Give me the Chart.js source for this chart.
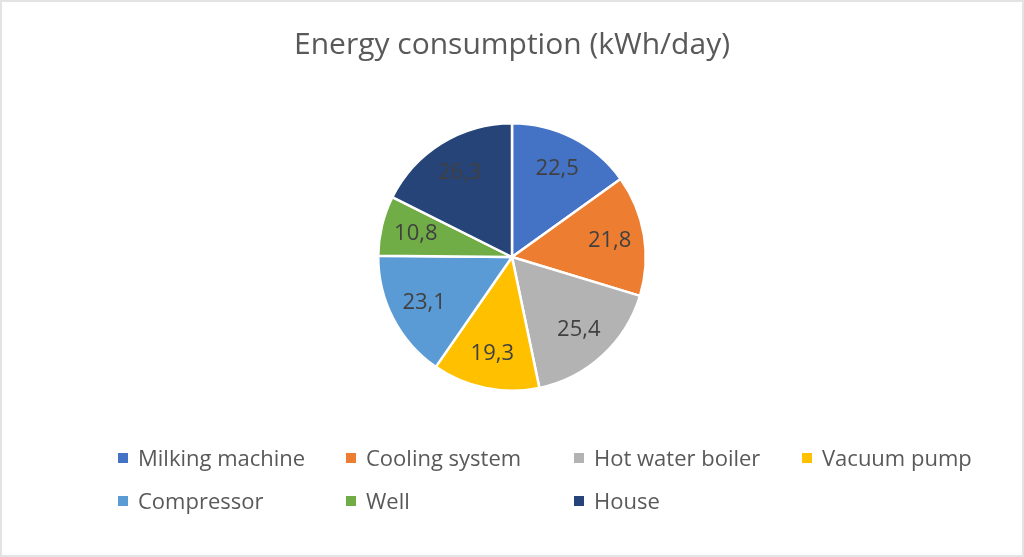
<!DOCTYPE html>
<html>
<head>
<meta charset="utf-8">
<script src="https://cdn.jsdelivr.net/npm/chart.js@4"></script>
<style>
  html, body { margin: 0; padding: 0; background: #fff; }
  #wrap { position: relative; width: 1024px; height: 557px; }
  #frame { position: absolute; left: 0; top: 0; width: 1024px; height: 557px; box-sizing: border-box; border: 2px solid #e3e3e3; pointer-events: none; }
  #legend { position: absolute; left: 118px; top: 439px; width: 912px; font-family: "Open Sans", sans-serif; font-size: 22px; color: #595959; }
  .item { position: absolute; white-space: nowrap; line-height: 36px; }
  .box { display: inline-block; width: 10px; height: 10px; margin-right: 10px; vertical-align: middle; position: relative; top: -2px; }
</style>
</head>
<body>
<div id="wrap">
  <canvas id="pie" width="1024" height="557"></canvas>
  <div id="legend"></div>
  <div id="frame"></div>
</div>
<script>
// Energy consumption per device, kWh/day
var categories = ['Milking machine', 'Cooling system', 'Hot water boiler', 'Vacuum pump', 'Compressor', 'Well', 'House'];
var values = [22.5, 21.8, 25.4, 19.3, 23.1, 10.8, 26.3];
var colors = ['#4472C4', '#ED7D31', '#B3B3B3', '#FFC000', '#5B9BD5', '#70AD47', '#264478'];

// draws the value inside each slice (Excel style, comma decimals)
var sliceLabels = {
    id: 'sliceLabels',
    afterDatasetsDraw: function(chart) {
        var ctx = chart.ctx;
        var meta = chart.getDatasetMeta(0);
        ctx.save();
        ctx.font = '22px "Open Sans", sans-serif';
        ctx.fillStyle = '#404040';
        ctx.textAlign = 'center';
        ctx.textBaseline = 'middle';
        meta.data.forEach(function(arc, i) {
            var mid = (arc.startAngle + arc.endAngle) / 2;
            var r = arc.outerRadius * 0.74;
            var txt = String(values[i]).replace('.', ',');
            ctx.fillText(txt, arc.x + Math.cos(mid) * r, arc.y + Math.sin(mid) * r);
        });
        ctx.restore();
    }
};

document.addEventListener('DOMContentLoaded', function() {
    var ctx = document.getElementById('pie').getContext('2d');
    new Chart(ctx, {
        type: 'pie',
        data: {
            labels: categories,
            datasets: [{
                data: values,
                backgroundColor: colors,
                borderColor: '#ffffff',
                borderWidth: 2.5
            }]
        },
        options: {
            responsive: false,
            animation: false,
            layout: { padding: { top: 0, bottom: 165 } },
            plugins: {
                legend: { display: false },
                tooltip: { enabled: false },
                title: {
                    display: true,
                    text: 'Energy consumption (kWh/day)',
                    color: '#595959',
                    font: { family: '"Open Sans", sans-serif', size: 30, weight: 'normal', lineHeight: 1.2 },
                    padding: { top: 27, bottom: 59 }
                }
            }
        },
        plugins: [sliceLabels]
    });

    // legend laid out in fixed columns like the original
    var legend = document.getElementById('legend');
    categories.forEach(function(name, i) {
        var el = document.createElement('div');
        el.className = 'item';
        el.style.left = (i % 4) * 228 + 'px';
        el.style.top = Math.floor(i / 4) * 43 + 'px';
        el.innerHTML = '<span class="box" style="background:' + colors[i] + '"></span>' + name;
        legend.appendChild(el);
    });
});
</script>
</body>
</html>
